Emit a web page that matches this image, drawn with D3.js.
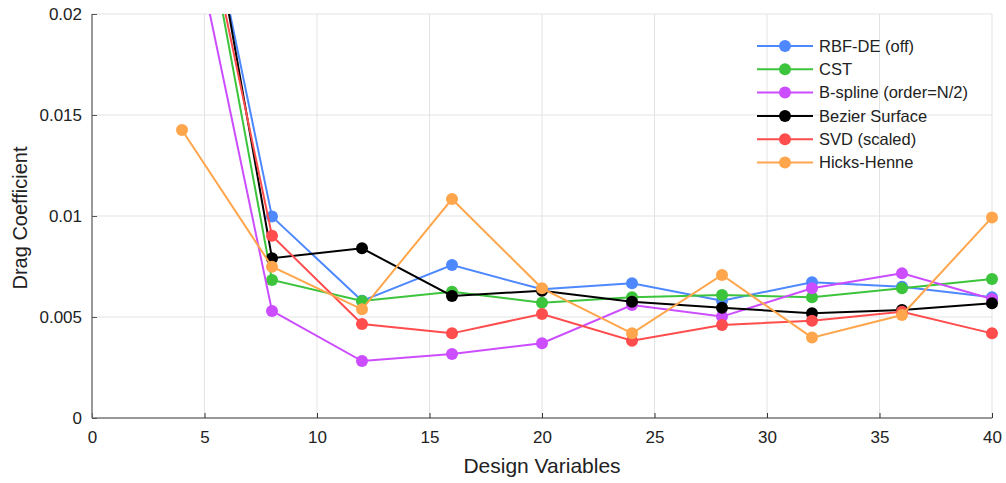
<!DOCTYPE html>
<html>
<head>
<meta charset="utf-8">
<script src="https://cdn.jsdelivr.net/npm/d3@7"></script>
<style>
  html, body { margin: 0; padding: 0; background: #fff; }
  svg { display: block; font-family: "Liberation Sans", Arial, Helvetica, sans-serif; }
</style>
</head>
<body>
<svg id="chart" width="1006" height="483"></svg>
<script>
// Design-variable counts sampled for each parameterisation
const designVars = [4, 8, 12, 16, 20, 24, 28, 32, 36, 40];

// Drag coefficient per method
const rbfDE     = [0.0315, 0.00997, 0.0058, 0.00757, 0.00637, 0.00667, 0.00581, 0.00672, 0.0065, 0.00598];
const cst       = [0.0310, 0.00683, 0.00579, 0.00625, 0.00571, 0.00598, 0.00609, 0.00598, 0.00642, 0.00688];
const bspline   = [0.0266, 0.0053, 0.00282, 0.00317, 0.0037, 0.00559, 0.00502, 0.00642, 0.00716, 0.00589];
const bezier    = [0.0332, 0.00791, 0.0084, 0.00604, 0.0063, 0.00576, 0.00546, 0.00518, 0.00535, 0.00568];
const svdScaled = [0.0303, 0.00902, 0.00465, 0.00419, 0.00515, 0.00383, 0.0046, 0.00482, 0.00526, 0.00419];
const hicks     = [0.01426, 0.00749, 0.00538, 0.01084, 0.00642, 0.00419, 0.00708, 0.00398, 0.0051, 0.00993];

const seriesNames  = ["RBF-DE (off)", "CST", "B-spline (order=N/2)", "Bezier Surface", "SVD (scaled)", "Hicks-Henne"];
const seriesValues = [rbfDE, cst, bspline, bezier, svdScaled, hicks];
const seriesColors = ["#4d88ff", "#3cc43c", "#cc4dff", "#000000", "#ff4d4d", "#ffa64d"];

const xTicks = [0, 5, 10, 15, 20, 25, 30, 35, 40];
const yTicks = [0, 0.005, 0.01, 0.015, 0.02];
const yTickLabels = ["0", "0.005", "0.01", "0.015", "0.02"];

const svg = d3.select("#chart");
const margin = { left: 92, right: 14, top: 14, bottom: 65 };
const W = 1006, H = 483;
const iw = W - margin.left - margin.right;
const ih = H - margin.top - margin.bottom;

const x = d3.scaleLinear().domain([0, 40]).range([0, iw]);
const y = d3.scaleLinear().domain([0, 0.02]).range([ih, 0]);

const g = svg.append("g").attr("transform", `translate(${margin.left},${margin.top})`);

// grid
g.append("g").selectAll("line").data(xTicks.filter(d => d > 0)).join("line")
  .attr("x1", d => x(d)).attr("x2", d => x(d)).attr("y1", 0).attr("y2", ih)
  .attr("stroke", "#e3e3e3").attr("stroke-width", 1);
g.append("g").selectAll("line").data(yTicks.filter(d => d > 0)).join("line")
  .attr("x1", 0).attr("x2", iw).attr("y1", d => y(d)).attr("y2", d => y(d))
  .attr("stroke", "#e3e3e3").attr("stroke-width", 1);

// axes
const xAxis = d3.axisBottom(x).tickValues(xTicks).tickSize(-5).tickPadding(13).tickFormat(d3.format("d"));
const yAxis = d3.axisLeft(y).tickValues(yTicks).tickSize(-5).tickPadding(10)
  .tickFormat((d, i) => yTickLabels[i]);

const gx = g.append("g").attr("transform", `translate(0,${ih})`).call(xAxis);
gx.select(".domain").attr("stroke", "#333").attr("stroke-width", 1.2).attr("d", `M0,0H${iw}`);
gx.selectAll(".tick line").attr("stroke", "#333");
gx.selectAll("text").attr("font-size", 17).attr("fill", "#222")
  .attr("font-family", "'Liberation Sans', Arial, sans-serif");

const gy = g.append("g").call(yAxis);
gy.select(".domain").attr("stroke", "#777").attr("stroke-width", 1.5).attr("d", `M0,${ih}V0`);
gy.selectAll(".tick line").attr("stroke", "#555");
gy.selectAll("text").attr("font-size", 17).attr("fill", "#222")
  .attr("font-family", "'Liberation Sans', Arial, sans-serif");

// axis titles
g.append("text").attr("x", x(20)).attr("y", ih + 55).attr("text-anchor", "middle")
  .attr("font-size", 21).attr("fill", "#222").text("Design Variables");
g.append("text").attr("transform", `translate(${-65},${ih / 2 + 2}) rotate(-90)`)
  .attr("text-anchor", "middle").attr("font-size", 20).attr("fill", "#222").text("Drag Coefficient");

// clip data to the plot region (values above 0.02 run off the top)
svg.append("defs").append("clipPath").attr("id", "plotclip")
  .append("rect").attr("x", -12).attr("y", 0).attr("width", iw + 24).attr("height", ih + 12);

const line = d3.line().x((d, i) => x(designVars[i])).y(d => y(d));
const plot = g.append("g").attr("clip-path", "url(#plotclip)");

seriesValues.forEach((vals, k) => {
  const s = plot.append("g");
  s.append("path").datum(vals).attr("d", line).attr("fill", "none")
    .attr("stroke", seriesColors[k]).attr("stroke-width", 2);
  s.selectAll("circle").data(vals).join("circle")
    .attr("cx", (d, i) => x(designVars[i])).attr("cy", d => y(d)).attr("r", 6)
    .attr("fill", seriesColors[k]);
});

// legend
const legend = svg.append("g").attr("transform", "translate(757,46)");
seriesNames.forEach((name, k) => {
  const row = legend.append("g").attr("transform", `translate(0,${k * 23.3})`);
  row.append("line").attr("x1", 0).attr("x2", 56).attr("y1", 0).attr("y2", 0)
    .attr("stroke", seriesColors[k]).attr("stroke-width", 2);
  row.append("circle").attr("cx", 28).attr("cy", 0).attr("r", 6).attr("fill", seriesColors[k]);
  row.append("text").attr("x", 62).attr("y", 0).attr("dy", "0.35em")
    .attr("font-size", 16.5).attr("fill", "#222").text(name);
});
</script>
</body>
</html>
